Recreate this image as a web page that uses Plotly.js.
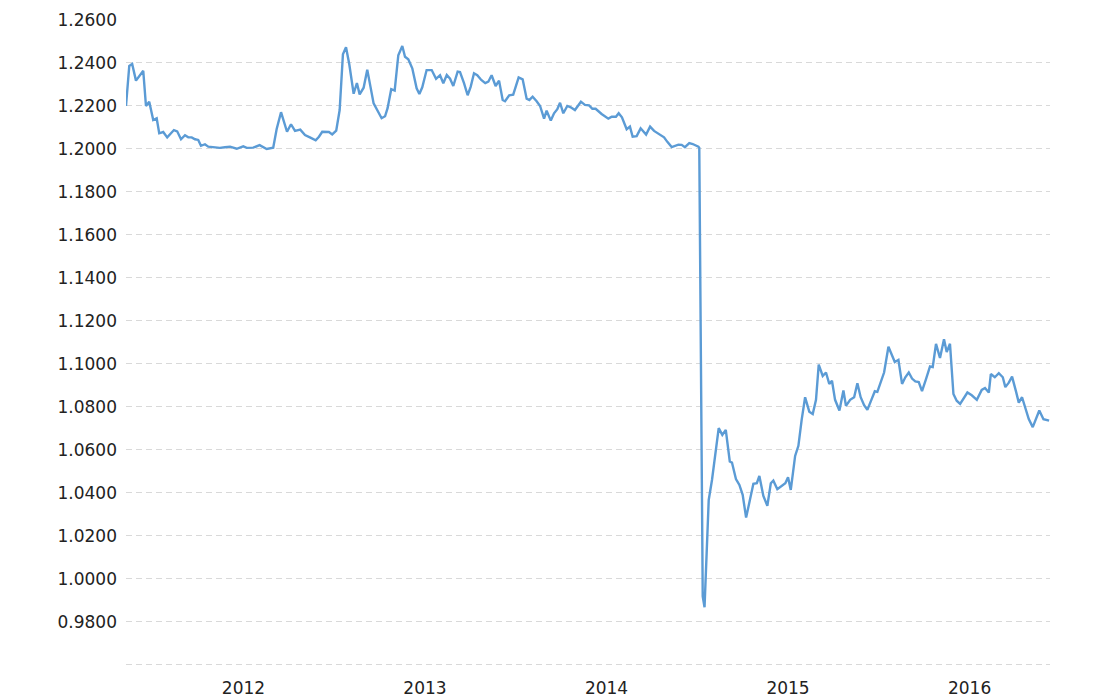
<!DOCTYPE html>
<html>
<head>
<meta charset="utf-8">
<script src="https://cdn.plot.ly/plotly-3.0.1.min.js"></script>
<style>
  html, body { margin: 0; padding: 0; background: #fff; }
  #chart { width: 1110px; height: 700px; }
</style>
</head>
<body>
<div id="chart"></div>
<script>
// Time as decimal years, EUR/CHF exchange rate
const years = [
  2011.853, 2011.871, 2011.887, 2011.908, 2011.948, 2011.963, 2011.981, 2012.003, 2012.022, 2012.036,
  2012.058, 2012.080, 2012.117, 2012.135, 2012.156, 2012.178, 2012.196, 2012.215, 2012.233, 2012.251,
  2012.266, 2012.288, 2012.306, 2012.343, 2012.370, 2012.398, 2012.426, 2012.463, 2012.499, 2012.518,
  2012.554, 2012.589, 2012.628, 2012.664, 2012.683, 2012.707, 2012.740, 2012.762, 2012.784, 2012.813,
  2012.839, 2012.866, 2012.898, 2012.916, 2012.934, 2012.971, 2012.989, 2013.011, 2013.030, 2013.048,
  2013.065, 2013.083, 2013.107, 2013.125, 2013.140, 2013.162, 2013.182, 2013.217, 2013.239, 2013.261,
  2013.280, 2013.294, 2013.314, 2013.333, 2013.353, 2013.375, 2013.390, 2013.408, 2013.430, 2013.454,
  2013.469, 2013.485, 2013.509, 2013.537, 2013.561, 2013.583, 2013.601, 2013.620, 2013.638, 2013.656,
  2013.680, 2013.693, 2013.715, 2013.735, 2013.752, 2013.770, 2013.788, 2013.810, 2013.832, 2013.849,
  2013.867, 2013.889, 2013.908, 2013.928, 2013.941, 2013.964, 2013.986, 2014.016, 2014.038, 2014.060,
  2014.075, 2014.093, 2014.115, 2014.134, 2014.156, 2014.170, 2014.193, 2014.211, 2014.229, 2014.244,
  2014.262, 2014.284, 2014.303, 2014.326, 2014.359, 2014.381, 2014.404, 2014.422, 2014.440, 2014.473,
  2014.510, 2014.529, 2014.552, 2014.567, 2014.585, 2014.611, 2014.629, 2014.644, 2014.666, 2014.688,
  2014.718, 2014.740, 2014.762, 2014.785, 2014.817, 2014.835, 2014.859, 2014.896, 2014.914, 2014.932,
  2014.956, 2014.975, 2015.006, 2015.011, 2015.030, 2015.040, 2015.063, 2015.081, 2015.098, 2015.118,
  2015.138, 2015.157, 2015.179, 2015.191, 2015.213, 2015.232, 2015.250, 2015.269, 2015.291, 2015.309,
  2015.328, 2015.342, 2015.364, 2015.386, 2015.405, 2015.419, 2015.441, 2015.465, 2015.485, 2015.500,
  2015.515, 2015.539, 2015.557, 2015.575, 2015.594, 2015.617, 2015.636, 2015.654, 2015.669, 2015.691,
  2015.709, 2015.727, 2015.742, 2015.759, 2015.783, 2015.805, 2015.819, 2015.842, 2015.864, 2015.882,
  2015.900, 2015.919, 2015.937, 2015.959, 2015.978, 2015.992, 2016.011, 2016.029, 2016.053, 2016.071,
  2016.088, 2016.108, 2016.128, 2016.146, 2016.165, 2016.183, 2016.201, 2016.220, 2016.238, 2016.260,
  2016.282, 2016.297, 2016.315, 2016.337, 2016.359, 2016.374, 2016.392, 2016.411, 2016.429, 2016.448,
  2016.466, 2016.488, 2016.512, 2016.540, 2016.567, 2016.585, 2016.606, 2016.617, 2016.639, 2016.661,
  2016.683, 2016.697, 2016.716, 2016.734, 2016.756, 2016.771, 2016.789, 2016.807, 2016.826, 2016.848,
  2016.866, 2016.884, 2016.907, 2016.929, 2016.938
];
const rate = [
  1.2200, 1.2386, 1.2395, 1.2318, 1.2364, 1.2200, 1.2220, 1.2135, 1.2143, 1.2073,
  1.2079, 1.2054, 1.2088, 1.2082, 1.2045, 1.2064, 1.2054, 1.2054, 1.2045, 1.2042,
  1.2015, 1.2022, 1.2011, 1.2008, 1.2005, 1.2008, 1.2011, 1.2001, 1.2012, 1.2005,
  1.2006, 1.2018, 1.2000, 1.2006, 1.2093, 1.2171, 1.2080, 1.2115, 1.2084, 1.2090,
  1.2065, 1.2054, 1.2040, 1.2057, 1.2080, 1.2079, 1.2068, 1.2085, 1.2181, 1.2440,
  1.2473, 1.2394, 1.2257, 1.2307, 1.2254, 1.2285, 1.2369, 1.2212, 1.2177, 1.2143,
  1.2152, 1.2190, 1.2278, 1.2272, 1.2436, 1.2479, 1.2429, 1.2417, 1.2375, 1.2282,
  1.2256, 1.2287, 1.2367, 1.2367, 1.2326, 1.2343, 1.2306, 1.2344, 1.2327, 1.2293,
  1.2360, 1.2358, 1.2306, 1.2250, 1.2290, 1.2352, 1.2343, 1.2321, 1.2306, 1.2313,
  1.2343, 1.2293, 1.2318, 1.2228, 1.2222, 1.2250, 1.2253, 1.2333, 1.2324, 1.2234,
  1.2228, 1.2243, 1.2222, 1.2200, 1.2141, 1.2178, 1.2132, 1.2166, 1.2185, 1.2215,
  1.2166, 1.2200, 1.2194, 1.2181, 1.2220, 1.2205, 1.2203, 1.2187, 1.2187, 1.2163,
  1.2141, 1.2150, 1.2150, 1.2166, 1.2147, 1.2092, 1.2104, 1.2057, 1.2060, 1.2096,
  1.2067, 1.2104, 1.2084, 1.2073, 1.2054, 1.2033, 1.2009, 1.2020, 1.2019, 1.2008,
  1.2027, 1.2023, 1.2011, 1.2005, 0.9918, 0.9868, 1.0367, 1.0460, 1.0577, 1.0701,
  1.0670, 1.0693, 1.0546, 1.0541, 1.0464, 1.0437, 1.0391, 1.0285, 1.0371, 1.0442,
  1.0445, 1.0479, 1.0386, 1.0340, 1.0445, 1.0457, 1.0417, 1.0433, 1.0445, 1.0473,
  1.0414, 1.0572, 1.0619, 1.0740, 1.0845, 1.0778, 1.0767, 1.0833, 1.0997, 1.0944,
  1.0960, 1.0907, 1.0922, 1.0833, 1.0783, 1.0876, 1.0805, 1.0833, 1.0845, 1.0910,
  1.0845, 1.0808, 1.0786, 1.0833, 1.0873, 1.0870, 1.0916, 1.0960, 1.1080, 1.1047,
  1.1009, 1.1019, 1.0907, 1.0938, 1.0960, 1.0932, 1.0919, 1.0916, 1.0873, 1.0929,
  1.0988, 1.0985, 1.1093, 1.1028, 1.1115, 1.1055, 1.1094, 1.0860, 1.0829, 1.0814,
  1.0839, 1.0867, 1.0854, 1.0833, 1.0879, 1.0888, 1.0867, 1.0953, 1.0938, 1.0957,
  1.0938, 1.0892, 1.0913, 1.0941, 1.0871, 1.0820, 1.0845, 1.0798, 1.0743, 1.0706,
  1.0746, 1.0783, 1.0743, 1.0736, 1.0736
];
const xTickVals = [2012.5, 2013.5, 2014.5, 2015.5, 2016.5];
const xTickText = ['2012', '2013', '2014', '2015', '2016'];
const yTickVals = [0.96, 0.98, 1.00, 1.02, 1.04, 1.06, 1.08, 1.10, 1.12, 1.14, 1.16, 1.18, 1.20, 1.22, 1.24, 1.26];
const yTickText = ['', '0.9800', '1.0000', '1.0200', '1.0400', '1.0600', '1.0800', '1.1000',
                   '1.1200', '1.1400', '1.1600', '1.1800', '1.2000', '1.2200', '1.2400', '1.2600'];

const trace = {
  x: years,
  y: rate,
  type: 'scatter',
  mode: 'lines',
  line: { color: '#5b9bd5', width: 2.4 },
  hoverinfo: 'x+y'
};

const layout = {
  width: 1110,
  height: 700,
  margin: { l: 126, r: 60, t: 20, b: 33 },
  paper_bgcolor: '#ffffff',
  plot_bgcolor: '#ffffff',
  showlegend: false,
  font: { family: 'DejaVu Sans, Verdana, sans-serif', size: 17, color: '#222222' },
  xaxis: {
    range: [2011.853, 2016.943],
    tickvals: xTickVals,
    ticktext: xTickText,
    showgrid: false,
    zeroline: false,
    showline: false,
    ticks: '',
    ticklabelstandoff: 9,
    fixedrange: true
  },
  yaxis: {
    range: [0.959, 1.26],
    tickvals: yTickVals,
    ticktext: yTickText,
    showgrid: true,
    gridcolor: '#d9d9d9',
    gridwidth: 1,
    griddash: '6px,4px',
    zeroline: false,
    showline: false,
    ticks: '',
    ticklabelstandoff: 8,
    fixedrange: true
  }
};

Plotly.newPlot('chart', [trace], layout, { displayModeBar: false, staticPlot: true });
</script>
</body>
</html>
